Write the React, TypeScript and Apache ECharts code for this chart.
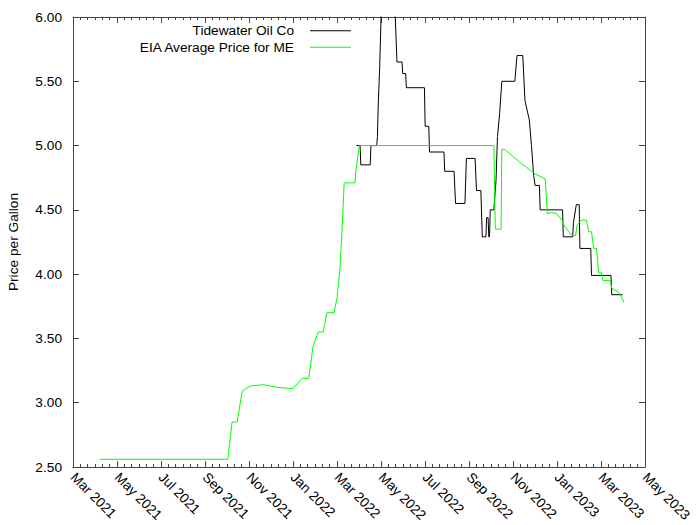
import React, { useEffect, useRef } from "react";
import * as echarts from "echarts";

const tickLabels = [
  "Mar 2021", "May 2021", "Jul 2021", "Sep 2021", "Nov 2021", "Jan 2022", "Mar 2022",
  "May 2022", "Jul 2022", "Sep 2022", "Nov 2022", "Jan 2023", "Mar 2023", "May 2023",
];

const tidewaterDates = [
  "2022-03-28", "2022-04-02", "2022-04-03", "2022-04-16", "2022-04-17", "2022-04-25", "2022-04-26",
  "2022-04-27", "2022-04-29", "2022-04-30", "2022-05-01", "2022-05-02", "2022-05-20", "2022-05-23",
  "2022-05-30", "2022-05-31", "2022-06-04", "2022-06-05", "2022-06-30", "2022-07-01", "2022-07-06",
  "2022-07-07", "2022-07-27", "2022-07-28", "2022-08-10", "2022-08-11", "2022-08-12", "2022-08-25",
  "2022-08-27", "2022-09-08", "2022-09-10", "2022-09-16", "2022-09-18", "2022-09-23", "2022-09-24",
  "2022-09-26", "2022-09-27", "2022-09-28", "2022-09-29", "2022-10-04", "2022-10-07", "2022-10-09",
  "2022-10-12", "2022-10-15", "2022-11-02", "2022-11-05", "2022-11-13", "2022-11-16", "2022-11-22",
  "2022-11-25", "2022-11-28", "2022-11-30", "2022-12-06", "2022-12-07", "2023-01-07", "2023-01-08",
  "2023-01-21", "2023-01-22", "2023-01-26", "2023-01-30", "2023-01-31", "2023-02-15", "2023-02-16",
  "2023-03-15", "2023-03-16", "2023-03-31",
];
const tidewaterPrices = [
  5.0, 5.0, 4.85, 4.85, 5.0, 5.0, 5.07, 5.3, 5.59, 5.79, 6.0, 6.1, 6.1, 5.65, 5.65, 5.56, 5.56,
  5.45, 5.45, 5.15, 5.15, 4.95, 4.95, 4.8, 4.8, 4.67, 4.55, 4.55, 4.9, 4.9, 4.65, 4.65, 4.29, 4.29,
  4.44, 4.44, 4.29, 4.29, 4.5, 4.5, 4.73, 5.07, 5.25, 5.5, 5.5, 5.7, 5.7, 5.35, 5.2, 5.0, 4.77,
  4.69, 4.69, 4.5, 4.5, 4.29, 4.29, 4.4, 4.54, 4.54, 4.2, 4.2, 3.99, 3.99, 3.84, 3.84,
];

const eiaDates = [
  "2021-04-07", "2021-10-01", "2021-10-07", "2021-10-14", "2021-10-21", "2021-11-01", "2021-11-19",
  "2021-12-08", "2021-12-30", "2022-01-12", "2022-01-21", "2022-01-27", "2022-02-03", "2022-02-10",
  "2022-02-15", "2022-02-25", "2022-03-01", "2022-03-05", "2022-03-08", "2022-03-11", "2022-03-26",
  "2022-03-27", "2022-04-01", "2022-10-04", "2022-10-06", "2022-10-14", "2022-10-15", "2022-10-19",
  "2022-11-09", "2022-11-30", "2022-12-14", "2022-12-17", "2022-12-23", "2022-12-30", "2023-01-06",
  "2023-01-10", "2023-01-20", "2023-01-25", "2023-01-27", "2023-02-02", "2023-02-09", "2023-02-12",
  "2023-02-16", "2023-02-19", "2023-02-23", "2023-02-26", "2023-03-02", "2023-03-04", "2023-03-14",
  "2023-03-16", "2023-03-23", "2023-03-28", "2023-04-02",
];
const eiaPrices = [
  2.56, 2.56, 2.85, 2.85, 3.09, 3.13, 3.14, 3.12, 3.11, 3.19, 3.19, 3.44, 3.55, 3.55, 3.7, 3.7,
  3.81, 4.03, 4.34, 4.71, 4.71, 4.8, 5.0, 5.0, 4.35, 4.35, 4.97, 4.97, 4.87, 4.78, 4.74, 4.47,
  4.48, 4.47, 4.42, 4.37, 4.3, 4.3, 4.38, 4.42, 4.42, 4.33, 4.33, 4.2, 4.2, 4.01, 4.01, 3.95,
  3.95, 3.89, 3.87, 3.84, 3.78,
];

const START = Date.UTC(2021, 2, 1);
const END = Date.UTC(2023, 4, 1);
const STEPS = tickLabels.length - 1;
const DAY = 86400000;
const UNIT = (END - START) / STEPS;
const toX = (s: string) => (Date.parse(s) - START) / UNIT;

const FONT = "Liberation Sans";
const FS = 13.7;
const AXIS_COLOR = "#444";

export default function App() {
  const ref = useRef<HTMLDivElement>(null);
  useEffect(() => {
    document.body.style.margin = "0";
    if (!ref.current) return;
    const chart = echarts.init(ref.current, null, { renderer: "svg" });
    const xBase = {
      type: "value",
      min: 0,
      max: STEPS,
      interval: 1,
      splitLine: { show: false },
      axisLine: { show: true, onZero: false, lineStyle: { color: AXIS_COLOR, width: 1 } },
      axisTick: { show: true, inside: true, length: 6, lineStyle: { color: AXIS_COLOR } },
      minorTick: { show: true, splitNumber: 6, length: 3, lineStyle: { color: AXIS_COLOR } },
      minorSplitLine: { show: false },
    };
    const yBase = {
      type: "value",
      min: 2.5,
      max: 6,
      interval: 0.5,
      splitLine: { show: false },
      axisLine: { show: true, onZero: false, lineStyle: { color: AXIS_COLOR, width: 1 } },
      axisTick: { show: true, inside: true, length: 6, lineStyle: { color: AXIS_COLOR } },
    };
    chart.setOption({
      animation: false,
      backgroundColor: "#fff",
      textStyle: { fontFamily: FONT },
      grid: { left: 73, right: 55, top: 17, bottom: 58, containLabel: false, outerBoundsMode: "none" },
      legend: {
        data: ["Tidewater Oil Co", "EIA Average Price for ME"],
        orient: "vertical",
        right: 349,
        top: 22.7,
        align: "right",
        padding: 0,
        itemGap: 0.6,
        itemWidth: 41,
        itemHeight: 1,
        icon: "rect",
        selectedMode: false,
        textStyle: { fontSize: FS, fontFamily: FONT, color: "#000", lineHeight: 16, padding: [0, 11, 0, 0] },
      },
      xAxis: [
        {
          ...xBase,
          position: "bottom",
          axisLabel: {
            show: true,
            rotate: -45,
            margin: 8,
            fontSize: FS,
            fontFamily: FONT,
            color: "#000",
            formatter: (v: number) => tickLabels[Math.round(v)] ?? "",
          },
        },
        { ...xBase, position: "top", axisLabel: { show: false } },
      ],
      yAxis: [
        {
          ...yBase,
          position: "left",
          name: "Price per Gallon",
          nameLocation: "middle",
          nameGap: 53,
          nameTextStyle: { fontSize: FS, fontFamily: FONT, color: "#000" },
          axisLabel: {
            show: true,
            margin: 11,
            fontSize: FS,
            fontFamily: FONT,
            color: "#000",
            formatter: (v: number) => v.toFixed(2),
          },
        },
        { ...yBase, position: "right", axisLabel: { show: false } },
      ],
      series: [
        {
          name: "Tidewater Oil Co",
          type: "line",
          xAxisIndex: 0,
          yAxisIndex: 0,
          showSymbol: false,
          symbol: "none",
          clip: true,
          color: "#000",
          lineStyle: { color: "#000", width: 1 },
          data: tidewaterDates.map((d, i) => [toX(d), tidewaterPrices[i]]),
        },
        {
          name: "EIA Average Price for ME",
          type: "line",
          xAxisIndex: 0,
          yAxisIndex: 0,
          showSymbol: false,
          symbol: "none",
          clip: true,
          color: "#00ff00",
          lineStyle: { color: "#00ff00", width: 1 },
          data: eiaDates.map((d, i) => [toX(d), eiaPrices[i]]),
        },
      ],
    });
    return () => chart.dispose();
  }, []);
  return <div ref={ref} style={{ width: 700, height: 525 }} />;
}
